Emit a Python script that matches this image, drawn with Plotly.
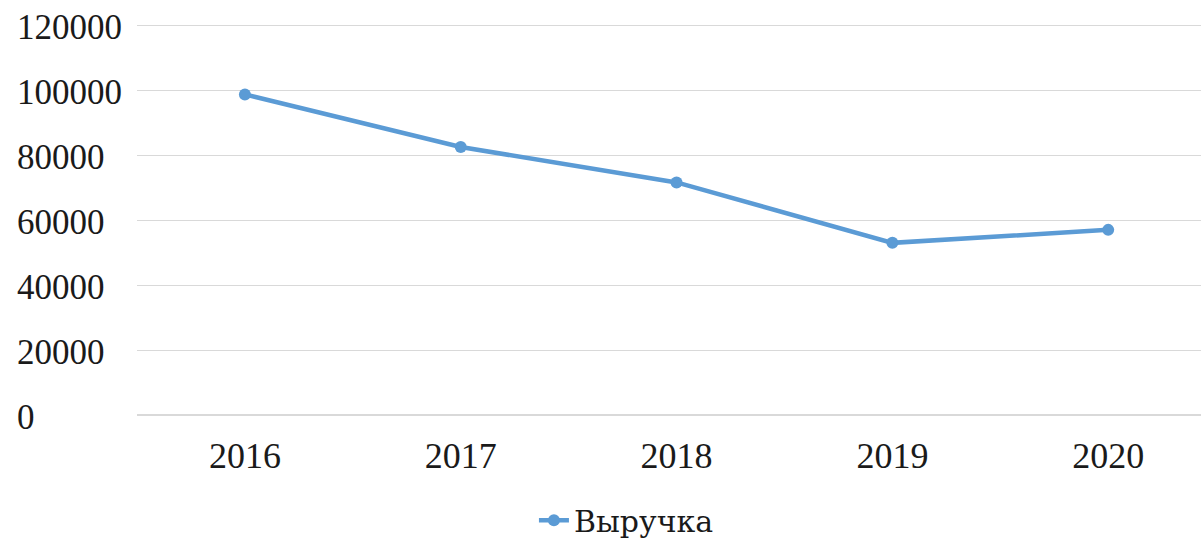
import plotly.graph_objects as go

# Revenue by year
years = ["2016", "2017", "2018", "2019", "2020"]
revenue = [98700, 82500, 71600, 53000, 57000]
series_name = "Выручка"

# Y axis ticks
y_ticks = [0, 20000, 40000, 60000, 80000, 100000, 120000]
y_tick_labels = ["0", "20000", "40000", "60000", "80000", "100000", "120000"]

FONT = "Liberation Serif"
LEGEND_FONT = "DejaVu Serif"
TEXT_COLOR = "#1a1a1a"
GRID = "#d9d9d9"
BLUE = "#5b9bd5"

fig = go.Figure()
fig.add_trace(go.Scatter(
    x=years,
    y=revenue,
    name=series_name,
    mode="lines+markers",
    line=dict(color=BLUE, width=4.5),
    marker=dict(color=BLUE, size=12),
))

# Left-aligned y tick labels placed at the axis tick values
for val, lab in zip(y_ticks, y_tick_labels):
    fig.add_annotation(
        x=-0.1147, xref="paper", xanchor="left",
        y=val, yref="y", yanchor="middle", yshift=-2,
        text=lab, showarrow=False,
        font=dict(family=FONT, size=35, color=TEXT_COLOR),
    )

fig.update_layout(
    width=1201, height=542,
    margin=dict(l=137, r=0, t=22, b=127, autoexpand=False),
    paper_bgcolor="white",
    plot_bgcolor="white",
    font=dict(family=FONT, color=TEXT_COLOR),
    showlegend=True,
    legend=dict(
        orientation="h",
        x=0.46, xanchor="center",
        y=-0.268, yanchor="middle",
        font=dict(family=LEGEND_FONT, size=30, color=TEXT_COLOR),
        itemwidth=30,
    ),
    xaxis=dict(
        type="category",
        range=[-0.5, 4.43],
        automargin=False,
        showgrid=False,
        showline=False,
        zeroline=False,
        ticks="",
        ticklabelstandoff=16,
        tickfont=dict(family=FONT, size=36, color=TEXT_COLOR),
    ),
    yaxis=dict(
        range=[0, 121000],
        automargin=False,
        tickvals=y_ticks,
        showticklabels=False,
        showgrid=True,
        gridcolor=GRID,
        gridwidth=1.3,
        zeroline=True,
        zerolinecolor=GRID,
        zerolinewidth=1.6,
        showline=False,
    ),
)

fig.write_html("out.html")
